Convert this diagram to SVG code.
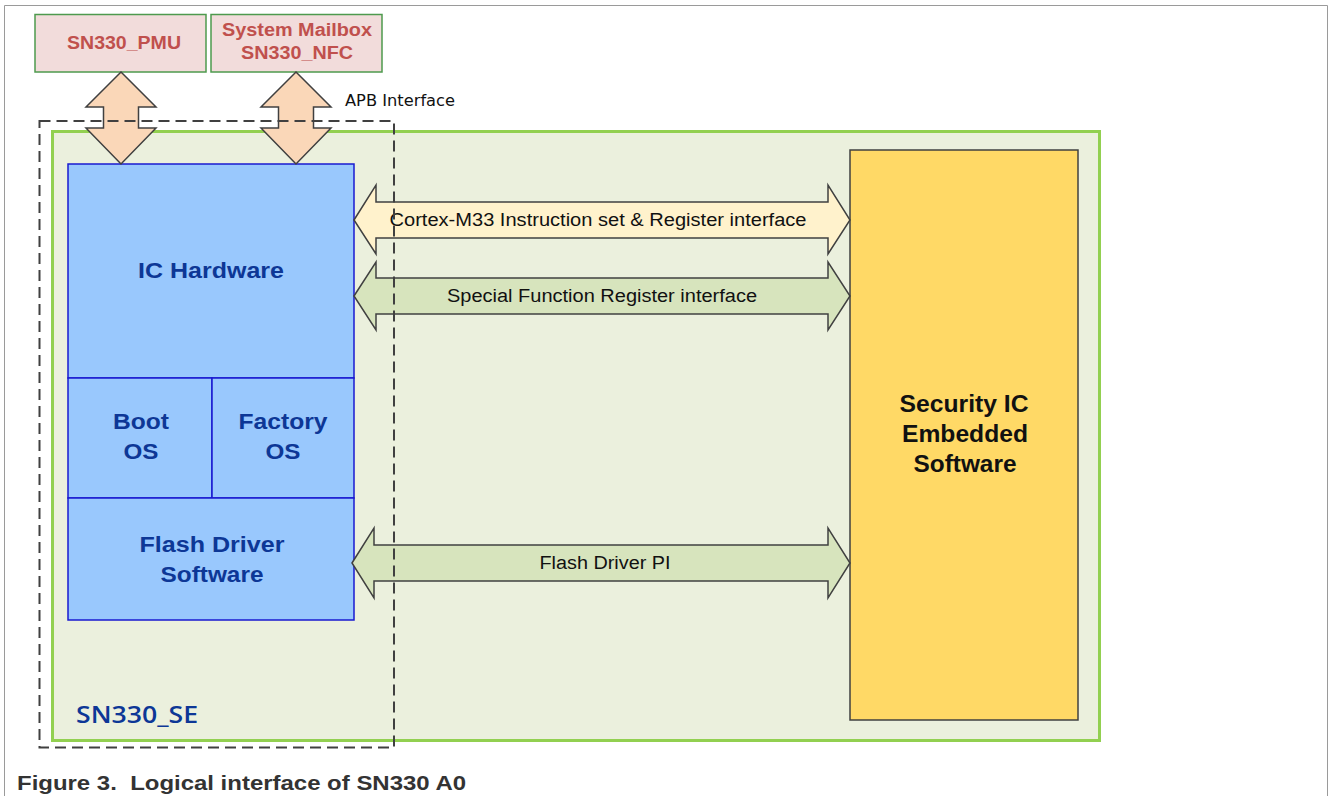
<svg xmlns="http://www.w3.org/2000/svg" width="1328" height="796" viewBox="0 0 1328 796">
<style>
.ext{fill:#f2dcdb;stroke:#4e9a4e;stroke-width:1.5}
.ext-t{font-family:"Liberation Sans",Arial,sans-serif;font-weight:bold;font-size:18px;fill:#c0504d;text-anchor:middle}
.blue{fill:#99c8fd;stroke:#1a1ad0;stroke-width:1.5}
.blue-t{font-family:"Liberation Sans",Arial,sans-serif;font-weight:bold;font-size:22px;fill:#0d3796;text-anchor:middle}
.sec-t{font-family:"Liberation Sans",Arial,sans-serif;font-weight:bold;font-size:23px;fill:#111;text-anchor:middle}
.lbl{font-family:"Liberation Sans",Arial,sans-serif;font-size:18px;fill:#111;text-anchor:middle}
.arr{stroke:#404040;stroke-width:1.5;stroke-linejoin:miter}
</style>
<rect width="1328" height="796" fill="#ffffff"/>
<path d="M4.5,796 V5.5 H1327.5 V796" fill="none" stroke="#9a9a9a" stroke-width="1"/>

<g id="se-container">
<rect x="52.5" y="131.5" width="1047" height="609" fill="#ebf0dd" stroke="#92d050" stroke-width="3"/>
<text x="76" y="723" font-family="'Open Sans','Liberation Sans',sans-serif" font-weight="600" font-size="24" fill="#0d3796" textLength="122" lengthAdjust="spacingAndGlyphs">SN330_SE</text>
</g>

<g id="pmu">
<rect class="ext" x="35" y="14.5" width="171" height="57.5"/>
<text class="ext-t" x="124" y="49" textLength="114" lengthAdjust="spacingAndGlyphs">SN330_PMU</text>
</g>
<g id="mailbox">
<rect class="ext" x="211" y="14.5" width="171" height="57.5"/>
<text class="ext-t" x="297" y="36" textLength="150" lengthAdjust="spacingAndGlyphs">System Mailbox</text>
<text class="ext-t" x="297" y="59" textLength="112" lengthAdjust="spacingAndGlyphs">SN330_NFC</text>
</g>

<g id="ic-hardware">
<rect class="blue" x="68" y="164" width="286" height="214"/>
<text class="blue-t" x="211" y="278" textLength="146" lengthAdjust="spacingAndGlyphs">IC Hardware</text>
</g>
<g id="boot-os">
<rect class="blue" x="68" y="378" width="144" height="120"/>
<text class="blue-t" x="141" y="429" textLength="56" lengthAdjust="spacingAndGlyphs">Boot</text>
<text class="blue-t" x="141" y="459" textLength="35" lengthAdjust="spacingAndGlyphs">OS</text>
</g>
<g id="factory-os">
<rect class="blue" x="212" y="378" width="142" height="120"/>
<text class="blue-t" x="283" y="429" textLength="89" lengthAdjust="spacingAndGlyphs">Factory</text>
<text class="blue-t" x="283" y="459" textLength="35" lengthAdjust="spacingAndGlyphs">OS</text>
</g>
<g id="flash-driver">
<rect class="blue" x="68" y="498" width="286" height="122"/>
<text class="blue-t" x="212" y="552" textLength="145" lengthAdjust="spacingAndGlyphs">Flash Driver</text>
<text class="blue-t" x="212" y="582" textLength="103" lengthAdjust="spacingAndGlyphs">Software</text>
</g>

<g id="security-ic">
<rect x="850" y="150" width="228" height="570" fill="#ffd966" stroke="#404040" stroke-width="1.5"/>
<text class="sec-t" x="964" y="412" textLength="129" lengthAdjust="spacingAndGlyphs">Security IC</text>
<text class="sec-t" x="965" y="442" textLength="126" lengthAdjust="spacingAndGlyphs">Embedded</text>
<text class="sec-t" x="965" y="472" textLength="103" lengthAdjust="spacingAndGlyphs">Software</text>
</g>

<g id="connectors">
<path class="arr" fill="#fad7b8" d="M121,72 L156,107 L138.5,107 L138.5,128 L156,128 L121,164 L86,128 L103.5,128 L103.5,107 L86,107 Z"/>
<path class="arr" fill="#fad7b8" d="M296,72 L331,107 L313.5,107 L313.5,128 L331,128 L296,164 L261,128 L278.5,128 L278.5,107 L261,107 Z"/>
<path class="arr" fill="#fff2cc" d="M354,220 L376,185 L376,202 L828,202 L828,185 L850,220 L828,254 L828,238 L376,238 L376,254 Z"/>
<path class="arr" fill="#d7e4bd" d="M354,296 L376,262 L376,278 L828,278 L828,262 L850,296 L828,330 L828,314 L376,314 L376,330 Z"/>
<path class="arr" fill="#d7e4bd" d="M352,563 L374,528 L374,545 L828,545 L828,528 L850,563 L828,598 L828,581 L374,581 L374,598 Z"/>
<text class="lbl" x="598" y="226" textLength="417" lengthAdjust="spacingAndGlyphs">Cortex-M33 Instruction set &amp; Register interface</text>
<text class="lbl" x="602" y="302" textLength="310" lengthAdjust="spacingAndGlyphs">Special Function Register interface</text>
<text class="lbl" x="605" y="569" textLength="131" lengthAdjust="spacingAndGlyphs">Flash Driver PI</text>
<text x="345" y="106" font-family="'DejaVu Sans','Liberation Sans',sans-serif" font-size="15" fill="#111" textLength="110" lengthAdjust="spacingAndGlyphs">APB Interface</text>
</g>

<g id="apb-boundary">
<rect x="39.5" y="121" width="354.5" height="626.5" fill="none" stroke="#404040" stroke-width="2" stroke-dasharray="11,6"/>
</g>

<text x="17" y="790" font-family="'Liberation Sans',Arial,sans-serif" font-weight="bold" font-size="21" fill="#333" xml:space="preserve" textLength="449" lengthAdjust="spacingAndGlyphs">Figure 3.  Logical interface of SN330 A0</text>
</svg>
